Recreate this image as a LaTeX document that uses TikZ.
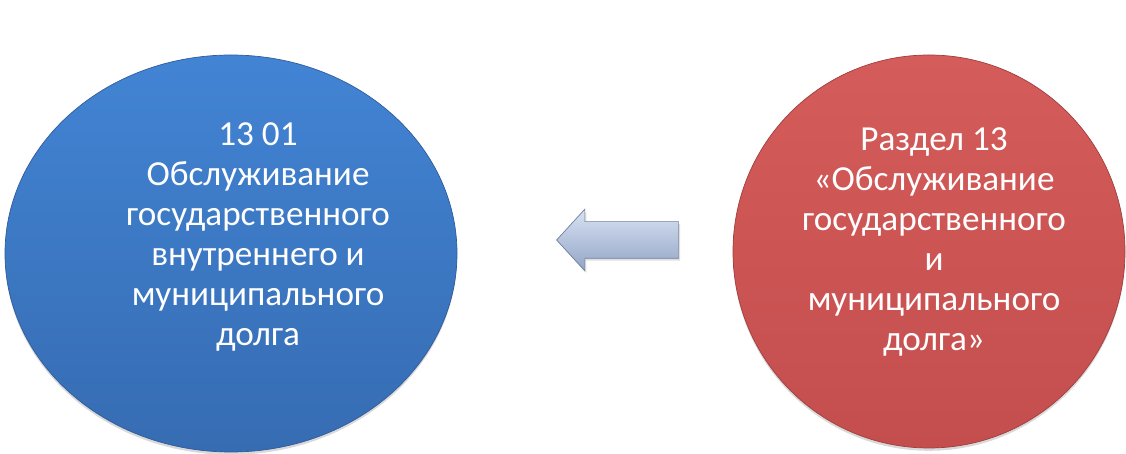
\documentclass[tikz,border=0pt]{standalone}
\usepackage{fontspec}
\setmainfont{Carlito}
\usetikzlibrary{shapes.geometric,shapes.arrows,shadows}

\definecolor{bluetop}{RGB}{66,132,212}
\definecolor{bluebot}{RGB}{54,108,178}
\definecolor{blueedge}{RGB}{48,92,155}
\definecolor{redtop}{RGB}{212,92,90}
\definecolor{redbot}{RGB}{196,78,78}
\definecolor{rededge}{RGB}{160,62,62}
\definecolor{arrtop}{RGB}{216,226,242}
\definecolor{arrbot}{RGB}{146,164,198}
\definecolor{arredge}{RGB}{112,128,160}

\begin{document}
\begin{tikzpicture}[
  every node/.style={inner sep=0pt},
  disc/.style={ellipse,draw=#1edge,line width=0.5pt,top color=#1top,bottom color=#1bot,
    drop shadow={shadow xshift=0pt,shadow yshift=-0.07cm,opacity=0.3}},
  caption/.style={align=center,text=white,anchor=north,font=\fontsize{25}{28.45}\selectfont},
  back/.style={single arrow,shape border rotate=180,single arrow tip angle=95,
    single arrow head extend=0.3125cm,minimum height=3.05cm,text height=0.9cm,text depth=0pt,
    draw=arredge,line width=0.5pt,top color=arrtop,bottom color=arrbot,
    drop shadow={shadow xshift=0.04cm,shadow yshift=-0.06cm,opacity=0.25}}]
\useasboundingbox (0,0) rectangle (28.15,11.35);
% discs
\node[disc=blue,minimum width=11.3cm,minimum height=9.925cm] (sub) at (5.775,5.0125) {};
\node[disc=red,minimum width=9.8cm,minimum height=9.825cm] (sec) at (23.225,5.0625) {};
% texts
\node[caption] (subtxt) at (6.45,8.3) {13 01\\ Обслуживание\\ государственного\\ внутреннего и\\ муниципального\\ долга};
\node[caption] (sectxt) at (23.35,8.175) {Раздел 13\\ «Обслуживание\\ государственного\\ и\\ муниципального\\ долга»};
% arrow
\node[back] (arr) at (15.65,5.35) {};
\end{tikzpicture}
\end{document}
